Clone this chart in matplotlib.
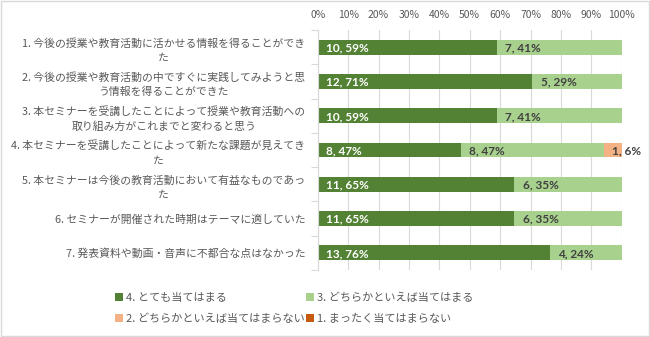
import matplotlib
matplotlib.use("Agg")
import matplotlib.pyplot as plt
from matplotlib.patches import Rectangle, Patch
from matplotlib.ticker import MultipleLocator, FixedLocator, PercentFormatter

plt.rcParams['font.family'] = ['Noto Sans CJK JP', 'DejaVu Sans']

questions = [
    "1. 今後の授業や教育活動に活かせる情報を得ることができ\nた",
    "2. 今後の授業や教育活動の中ですぐに実践してみようと思\nう情報を得ることができた",
    "3. 本セミナーを受講したことによって授業や教育活動への\n取り組み方がこれまでと変わると思う",
    "4. 本セミナーを受講したことによって新たな課題が見えてき\nた",
    "5. 本セミナーは今後の教育活動において有益なものであっ\nた",
    "6. セミナーが開催された時期はテーマに適していた",
    "7. 発表資料や動画・音声に不都合な点はなかった",
]
series_names = [
    "4. とても当てはまる",
    "3. どちらかといえば当てはまる",
    "2. どちらかといえば当てはまらない",
    "1. まったく当てはまらない",
]
counts_4 = [10, 12, 10, 8, 11, 11, 13]
counts_3 = [7, 5, 7, 8, 6, 6, 4]
counts_2 = [0, 0, 0, 1, 0, 0, 0]
counts_1 = [0, 0, 0, 0, 0, 0, 0]
colors = ["#548235", "#A9D18E", "#F4B183", "#C55A11"]
label_colors = ["white", "#404040", "#404040", "#404040"]

all_counts = [counts_4, counts_3, counts_2, counts_1]
totals = [sum(c[i] for c in all_counts) for i in range(len(questions))]

fig = plt.figure(figsize=(6.5, 3.37), dpi=100)
ax = fig.add_axes([0.4888, 0.199, 0.4677, 0.712])

y = list(range(len(questions)))
left = [0.0] * len(questions)
for counts, color, lc, name in zip(all_counts, colors, label_colors, series_names):
    pct = [c / t * 100 for c, t in zip(counts, totals)]
    ax.barh(y, pct, left=left, height=0.43, color=color, label=name, zorder=2)
    for i, (c, p) in enumerate(zip(counts, pct)):
        if c > 0:
            ax.text(left[i] + 2.7, i + 0.02, f"{c}, {round(p)}%", va="center", ha="left",
                    color=lc, fontsize=8.5, fontweight="bold",
                    family=["Lato", "DejaVu Sans"], zorder=3)
    left = [l + p for l, p in zip(left, pct)]

ax.set_xlim(0, 100)
ax.set_ylim(len(questions) - 0.5, -0.5)
ax.xaxis.set_major_locator(MultipleLocator(10))
ax.xaxis.set_major_formatter(PercentFormatter(decimals=0))
ax.xaxis.tick_top()
ax.tick_params(axis="x", length=0, labelsize=7.5, labelcolor="#595959", pad=7)
ax.grid(axis="x", color="#d9d9d9", linewidth=0.8, zorder=0)

ax.set_yticks(y)
ax.set_yticklabels(questions, fontsize=7.8, color="#595959", multialignment="center",
                   linespacing=1.5)
ax.tick_params(axis="y", which="major", length=0, pad=9)
ax.yaxis.set_minor_locator(FixedLocator([i - 0.5 for i in range(len(questions) + 1)]))
ax.tick_params(axis="y", which="minor", length=5, color="#d9d9d9", width=0.8)

for side in ("top", "right", "bottom"):
    ax.spines[side].set_visible(False)
ax.spines["left"].set_color("#d9d9d9")
ax.spines["left"].set_linewidth(0.8)

handles = [Patch(facecolor=c, edgecolor="none") for c in colors]
order = [0, 2, 1, 3]
fig.legend([handles[i] for i in order], [series_names[i] for i in order],
           loc="upper left", bbox_to_anchor=(0.177, 0.132), ncol=2, frameon=False,
           fontsize=8, labelcolor="#595959", handlelength=0.7, handleheight=0.7,
           handletextpad=0.3, columnspacing=0.1, labelspacing=0.95,
           borderaxespad=0, borderpad=0)

fig.patches.append(Rectangle((0.002, 0.003), 0.996, 0.994, transform=fig.transFigure,
                             fill=False, edgecolor="#d9d9d9", linewidth=1))

fig.savefig("out.png", dpi=100)
